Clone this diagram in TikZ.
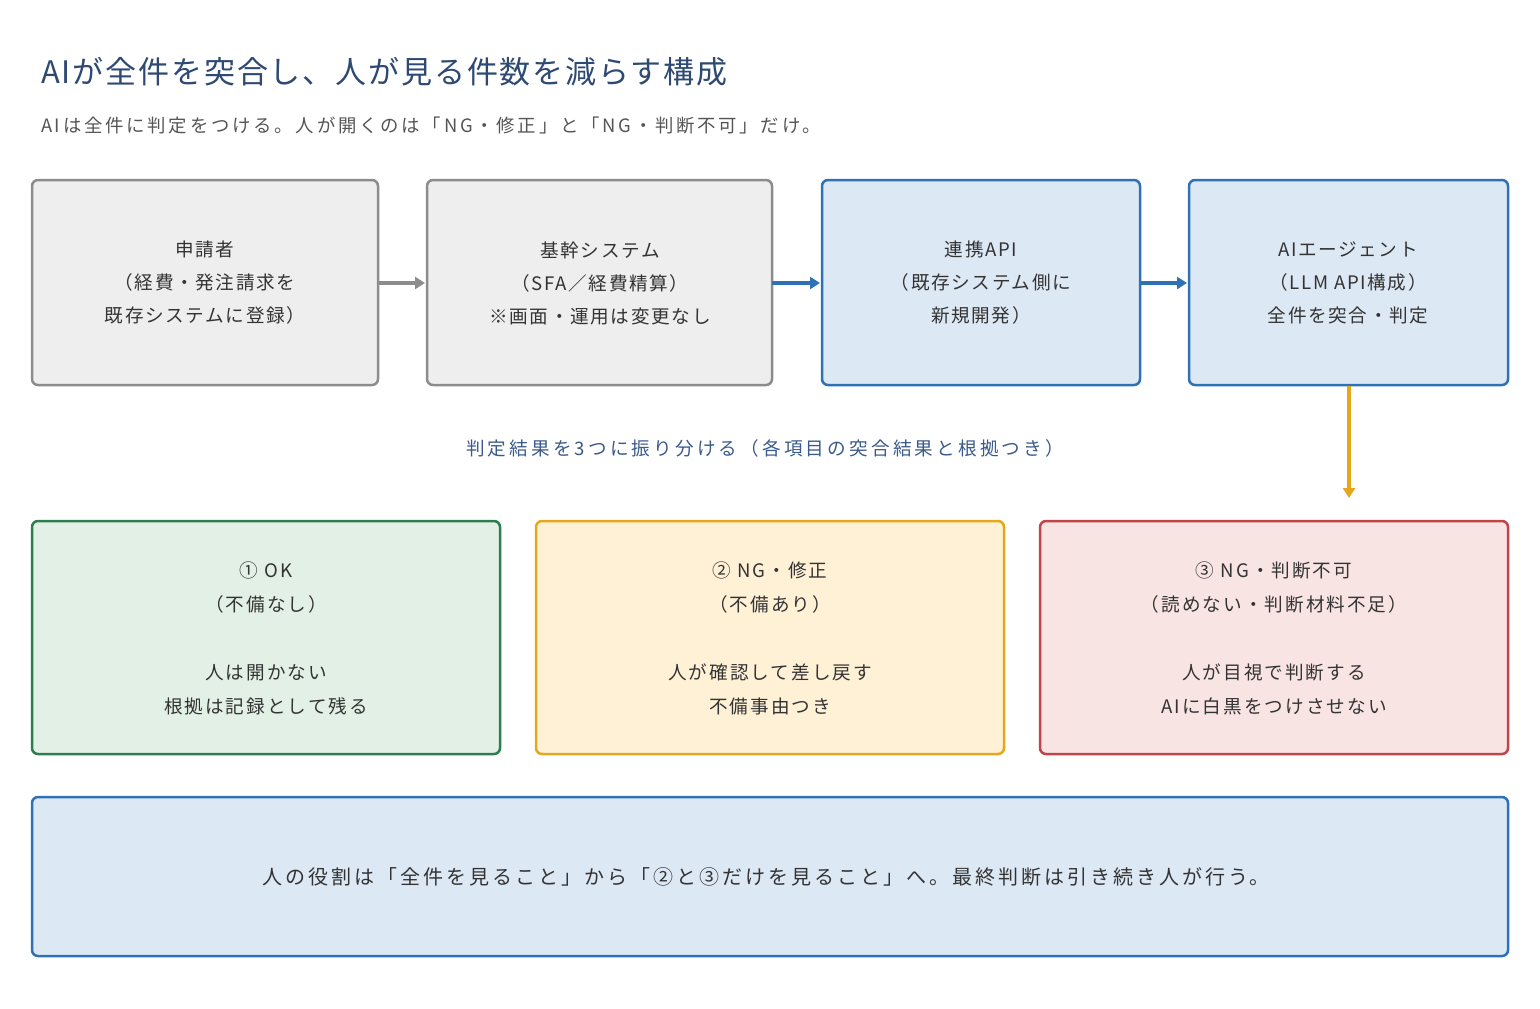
\documentclass[tikz,border=0pt]{standalone}
\usepackage{fontspec}
\setmainfont{Noto Sans CJK JP}
\newfontfamily\fA[LetterSpace=6]{Noto Sans CJK JP}
\newfontfamily\fB[LetterSpace=9]{Noto Sans CJK JP}
\newfontfamily\fC[LetterSpace=11]{Noto Sans CJK JP}
\newfontfamily\fD[LetterSpace=15]{Noto Sans CJK JP}
\newfontfamily\fE[LetterSpace=17]{Noto Sans CJK JP}
\usetikzlibrary{arrows.meta}
\definecolor{gfill}{HTML}{EEEEEE}\definecolor{gline}{HTML}{8C8C8C}
\definecolor{bfill}{HTML}{DDE8F5}\definecolor{bline}{HTML}{2E71B5}
\definecolor{nfill}{HTML}{E3F0E6}\definecolor{nline}{HTML}{2E7D4F}
\definecolor{yfill}{HTML}{FFF1D6}\definecolor{yline}{HTML}{E5A81B}
\definecolor{rfill}{HTML}{F9E4E4}\definecolor{rline}{HTML}{C0444A}
\definecolor{titlec}{HTML}{2E4A72}\definecolor{subc}{HTML}{555555}
\definecolor{txt}{HTML}{333333}\definecolor{lblc}{HTML}{3A5A8A}
\begin{document}
\begin{tikzpicture}[x=0.5pt,y=-0.5pt,
 box/.style={draw,line width=1.25pt,rounded corners=3pt},
 txt/.style={text=txt,align=center,font=\fB\fontsize{9.3}{16.5}\selectfont},
 txt2/.style={text=txt,align=center,font=\fC\fontsize{9.3}{17}\selectfont},
 arr/.style={line width=1.6pt,-{Triangle[length=5pt,width=6pt]}}]
\useasboundingbox (0,0) rectangle (1540,1008);
\node[anchor=west,text=titlec,font=\fA\fontsize{15.5}{18}\selectfont] (title) at (34,72) {AIが全件を突合し、人が見る件数を減らす構成};
\node[anchor=west,text=subc,font=\fD\fontsize{9.2}{12}\selectfont] (sub) at (34,126) {AIは全件に判定をつける。人が開くのは「NG・修正」と「NG・判断不可」だけ。};
\draw[box,draw=gline,fill=gfill] (32,180) rectangle (378,385);
\draw[box,draw=gline,fill=gfill] (427,180) rectangle (772,385);
\draw[box,draw=bline,fill=bfill] (822,180) rectangle (1140,385);
\draw[box,draw=bline,fill=bfill] (1189,180) rectangle (1508,385);
\node[txt] (a) at (205,283) {申請者\\（経費・発注請求を\\既存システムに登録）};
\node[txt] (b) at (600,283) {基幹システム\\（SFA／経費精算）\\※画面・運用は変更なし};
\node[txt] (c) at (981,283) {連携API\\（既存システム側に\\新規開発）};
\node[txt] (d) at (1348,283) {AIエージェント\\（LLM API構成）\\全件を突合・判定};
\coordinate (a1) at (378,283); \coordinate (b0) at (425,283);
\coordinate (b1) at (772,283); \coordinate (c0) at (820,283);
\coordinate (c1) at (1140,283); \coordinate (d0) at (1187,283);
\draw[arr,gline] (a1) -- (b0);
\draw[arr,bline] (b1) -- (c0);
\draw[arr,bline] (c1) -- (d0);
\coordinate (d1) at (1349,386); \coordinate (e0) at (1349,498);
\draw[arr,yline] (d1) -- (e0);
\node[text=lblc,font=\fE\fontsize{9.3}{12}\selectfont] (lbl) at (765,448) {判定結果を3つに振り分ける（各項目の突合結果と根拠つき）};
\draw[box,draw=nline,fill=nfill] (32,521) rectangle (500,754);
\draw[box,draw=yline,fill=yfill] (536,521) rectangle (1004,754);
\draw[box,draw=rline,fill=rfill] (1040,521) rectangle (1508,754);
\node[txt2] (g) at (266,638) {① OK\\（不備なし）\\[17pt]人は開かない\\根拠は記録として残る};
\node[txt2] (y) at (770,638) {② NG・修正\\（不備あり）\\[17pt]人が確認して差し戻す\\不備事由つき};
\node[txt2] (r) at (1274,638) {③ NG・判断不可\\（読めない・判断材料不足）\\[17pt]人が目視で判断する\\AIに白黒をつけさせない};
\draw[box,draw=bline,fill=bfill] (32,797) rectangle (1508,956);
\node[text=txt,font=\fD\fontsize{10}{12}\selectfont] (f) at (766,877) {人の役割は「全件を見ること」から「②と③だけを見ること」へ。最終判断は引き続き人が行う。};
\end{tikzpicture}
\end{document}
